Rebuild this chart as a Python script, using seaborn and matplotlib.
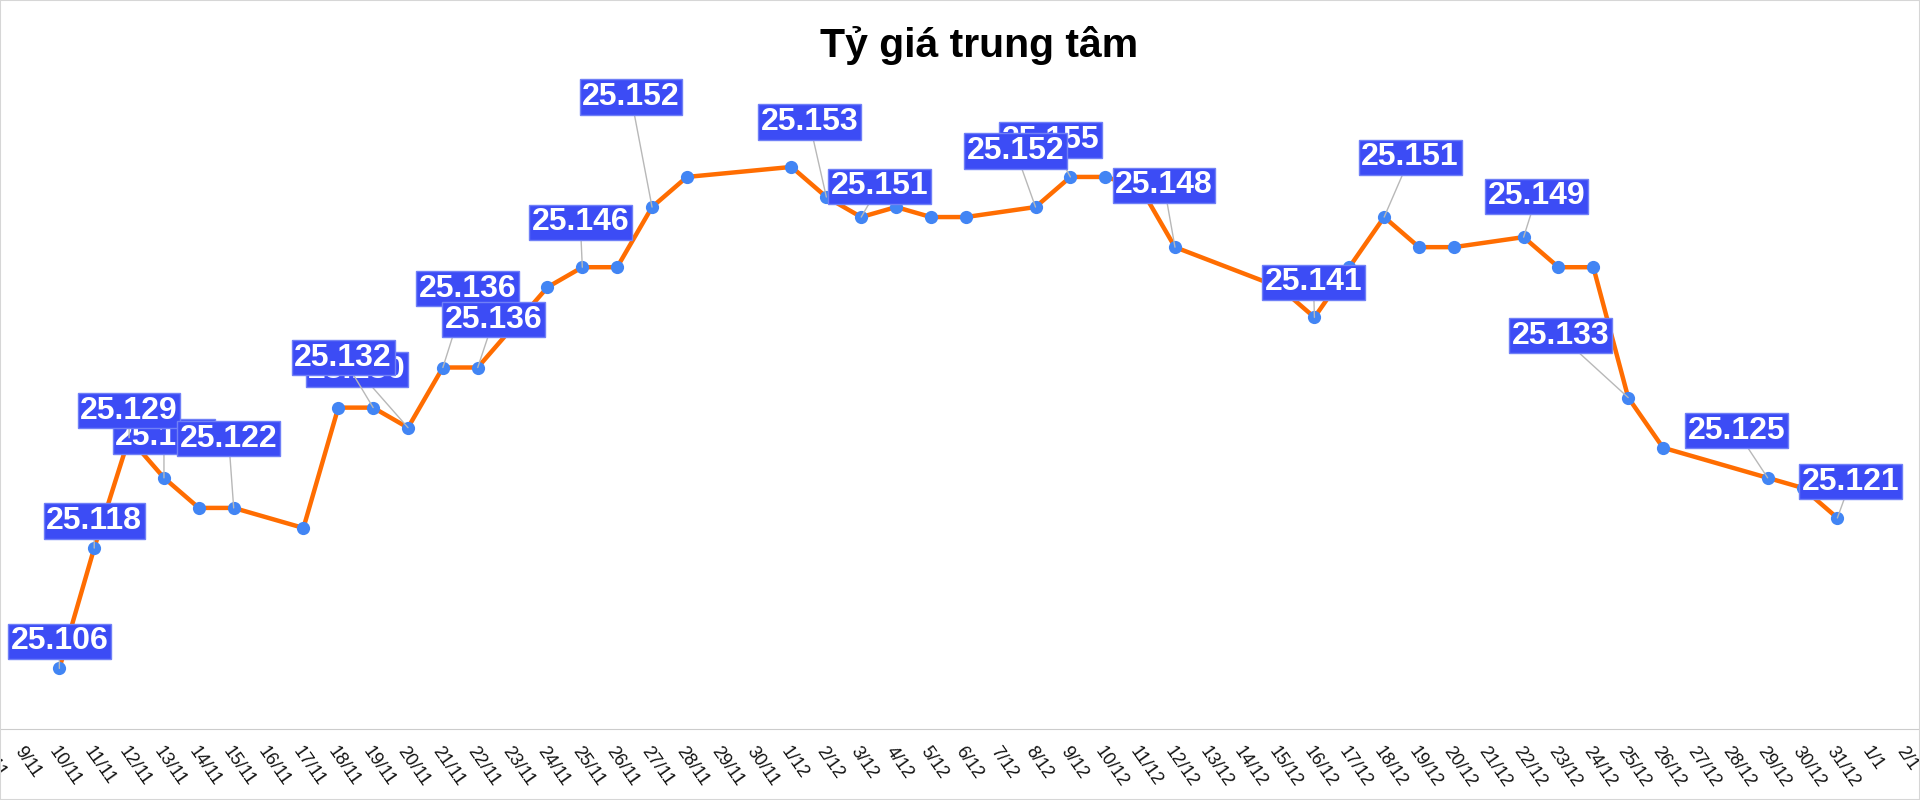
import numpy as np
import pandas as pd
import matplotlib
matplotlib.use("Agg")
import matplotlib.pyplot as plt
import seaborn as sns

# dates on the x axis (8/11 -> 2/1)
dates = (["%d/11" % d for d in range(8, 31)]
         + ["%d/12" % d for d in range(1, 32)]
         + ["1/1", "2/1"])

# central rate (thousand VND / USD), None = no quote that day
rates = [None, None, 25.106, 25.118, 25.129, 25.125, 25.122, 25.122, None, 25.120,
         25.132, 25.132, 25.130, 25.136, 25.136, None, 25.144, 25.146, 25.146, 25.152,
         25.155, None, None, 25.156, 25.153, 25.151, 25.152, 25.151, 25.151, None,
         25.152, 25.155, 25.155, 25.154, 25.148, None, None, 25.144, 25.141, 25.146,
         25.151, 25.148, 25.148, None, 25.149, 25.146, 25.146, 25.133, 25.128, None,
         None, 25.125, 25.124, 25.121, None, None]

# which dates carry a value label
labelled = ["13/11", "10/11", "11/11", "12/11", "15/11", "20/11", "19/11", "21/11",
            "22/11", "25/11", "27/11", "2/12", "3/12", "9/12", "8/12", "12/12",
            "16/12", "18/12", "22/12", "25/12", "29/12", "31/12"]

# label box offsets from the point, in pixels (dx right, dy up)
label_offsets = {
    "10/11": (0, 27), "11/11": (0, 27), "12/11": (0, 27), "13/11": (0, 41),
    "15/11": (-5, 69), "20/11": (-51, 58), "19/11": (-30, 50), "21/11": (25, 79),
    "22/11": (16, 48), "25/11": (-2, 45), "27/11": (-21, 110), "2/12": (-17, 75),
    "3/12": (18, 31), "9/12": (-20, 37), "8/12": (-20, 56), "12/12": (-11, 62),
    "16/12": (-1, 35), "18/12": (26, 60), "22/12": (13, 41), "25/12": (-68, 62),
    "29/12": (-31, 47), "31/12": (13, 36),
}

df = pd.DataFrame({"idx": np.arange(len(dates)), "date": dates, "rate": rates})
pts = df.dropna()

sns.set_style("white")
plt.rcParams["font.family"] = ["Liberation Sans", "DejaVu Sans"]

fig = plt.figure(figsize=(19.2, 8), dpi=100)
ax = fig.add_axes([0, 0.0893, 1, 0.7522])

sns.lineplot(data=pts, x="idx", y="rate", ax=ax, color="#ff6d01", linewidth=3.2,
             marker="o", markersize=9.5, markerfacecolor="#4285f4",
             markeredgecolor="#4285f4", markeredgewidth=0, zorder=2)

for i, d in enumerate(labelled):
    row = df[df["date"] == d].iloc[0]
    dx, dy = label_offsets[d]
    ax.annotate("%.3f" % row["rate"], xy=(row["idx"], row["rate"]),
                xytext=(dx, dy), textcoords="offset pixels",
                ha="center", va="center", fontsize=23, fontweight="bold",
                color="white", zorder=5 + i,
                bbox=dict(boxstyle="square,pad=0.08", fc="#3c4cf5", ec="#7080f7", lw=1),
                arrowprops=dict(arrowstyle="-", color="#b8b8b8", lw=1,
                                shrinkA=0, shrinkB=0))

tick_style = dict(rotation=-55, ha="left", va="top", rotation_mode="anchor",
                  fontsize=13, color="#111111")
ax.set_xticks(df["idx"])
ax.set_xticklabels(dates, **tick_style)
ax.set_xlim(0.297, 55.37)
ax.set_ylim(25.100, 25.160)
ax.set_yticks([])
ax.set_xlabel("")
ax.set_ylabel("")
for s in ["left", "right", "top"]:
    ax.spines[s].set_visible(False)
ax.spines["bottom"].set_color("#cccccc")
ax.tick_params(axis="x", direction="out", length=7, color="#cccccc", pad=4)

# first date sits just left of the visible range; its label is cut by the edge
ax.annotate(dates[0], xy=(0, 0), xycoords=ax.get_xaxis_transform(),
            xytext=(0, -11), textcoords="offset points", annotation_clip=False,
            **tick_style)

fig.text(0.51, 1 - 56.7 / 800, "Tỷ giá trung tâm", ha="center", va="baseline",
         fontsize=29.5, fontweight="bold", color="black")

fig.patches.append(plt.Rectangle((0, 0), 1, 1, transform=fig.transFigure,
                                 fill=False, ec="#d6d6d6", lw=1.5))

fig.savefig("out.png", dpi=100)
